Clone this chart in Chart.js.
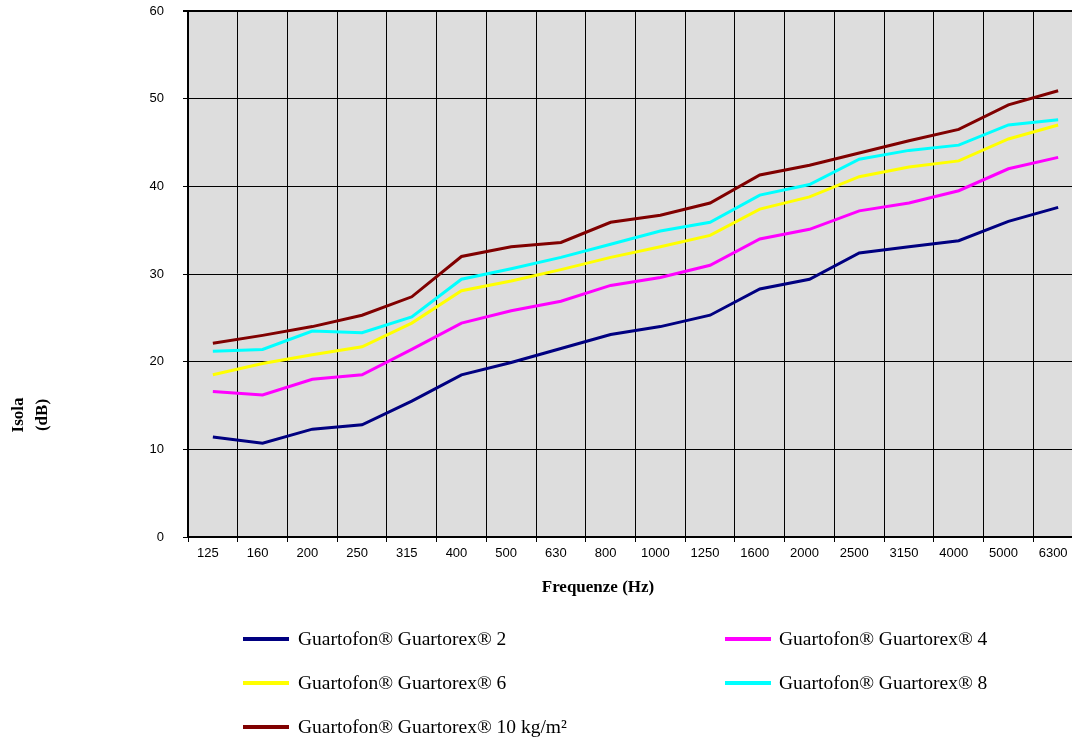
<!DOCTYPE html>
<html>
<head>
<meta charset="utf-8">
<script src="https://cdn.jsdelivr.net/npm/chart.js@4.4.1/dist/chart.umd.min.js"></script>
<style>
  html, body { margin: 0; padding: 0; background: #fff; overflow: hidden; }
  #chart { display: block; }
</style>
</head>
<body>
<canvas id="chart" width="1100" height="740" style="width:1100px;height:740px"></canvas>
<script>
const frequencies = ['125', '160', '200', '250', '315', '400', '500', '630', '800', '1000', '1250', '1600', '2000', '2500', '3150', '4000', '5000', '6300'];
const guartorex2 = [11.4, 10.7, 12.3, 12.8, 15.5, 18.5, 19.9, 21.5, 23.1, 24.0, 25.3, 28.3, 29.4, 32.4, 33.1, 33.8, 36.0, 37.6];
const guartorex4 = [16.6, 16.2, 18.0, 18.5, 21.4, 24.4, 25.8, 26.9, 28.7, 29.6, 31.0, 34.0, 35.1, 37.2, 38.1, 39.5, 42.0, 43.3];
const guartorex6 = [18.5, 19.8, 20.8, 21.7, 24.4, 28.1, 29.2, 30.5, 31.9, 33.1, 34.4, 37.4, 38.8, 41.1, 42.2, 42.9, 45.4, 47.0];
const guartorex8 = [21.2, 21.4, 23.5, 23.3, 25.1, 29.4, 30.6, 31.9, 33.4, 34.9, 35.9, 39.0, 40.2, 43.1, 44.1, 44.7, 47.0, 47.6];
const guartorex10 = [22.1, 23.0, 24.0, 25.3, 27.4, 32.0, 33.1, 33.6, 35.9, 36.7, 38.1, 41.3, 42.4, 43.8, 45.2, 46.5, 49.3, 50.9];
const seriesNames = [
  'Guartofon® Guartorex® 2',
  'Guartofon® Guartorex® 4',
  'Guartofon® Guartorex® 6',
  'Guartofon® Guartorex® 8',
  'Guartofon® Guartorex® 10 kg/m²'
];
const seriesColors = ['#000080', '#ff00ff', '#ffff00', '#00ffff', '#800000'];
const yTitle = ['Isola', '(dB)'];
const xTitle = 'Frequenze (Hz)';

const seriesValues = [guartorex2, guartorex4, guartorex6, guartorex8, guartorex10];

// grey plot background
const plotBackground = {
  id: 'plotBackground',
  beforeDraw(chart) {
    const { ctx, chartArea } = chart;
    ctx.save();
    ctx.fillStyle = '#dddddd';
    ctx.fillRect(chartArea.left, chartArea.top, chartArea.right - chartArea.left, chartArea.bottom - chartArea.top);
    ctx.restore();
  }
};

// axis titles and the two-column legend
const decorations = {
  id: 'decorations',
  afterDraw(chart) {
    const ctx = chart.ctx;
    ctx.save();
    ctx.fillStyle = '#000';
    ctx.font = 'bold 17px "Liberation Serif", "Times New Roman", serif';
    ctx.textAlign = 'center';
    ctx.textBaseline = 'middle';
    ctx.fillText(xTitle, 598, 588);

    ctx.translate(0, 415);
    ctx.rotate(-Math.PI / 2);
    ctx.fillText(yTitle[0], 0, 19);
    ctx.fillText(yTitle[1], 0, 43);
    ctx.setTransform(1, 0, 0, 1, 0, 0);
    ctx.restore();

    ctx.save();
    ctx.font = '19.5px "Liberation Serif", "Times New Roman", serif';
    ctx.textAlign = 'left';
    ctx.textBaseline = 'middle';
    chart.data.datasets.forEach((ds, i) => {
      const col = i % 2;
      const row = Math.floor(i / 2);
      const lx = col === 0 ? 243 : 725;
      const tx = col === 0 ? 298 : 779;
      const y = 639 + row * 44;
      ctx.strokeStyle = ds.borderColor;
      ctx.lineWidth = 4;
      ctx.beginPath();
      ctx.moveTo(lx, y);
      ctx.lineTo(lx + 46, y);
      ctx.stroke();
      ctx.fillStyle = '#000';
      ctx.fillText(ds.label, tx, y + 1);
    });
    ctx.restore();
  }
};

const datasets = seriesValues.map((values, i) => ({
  label: seriesNames[i],
  data: values,
  borderColor: seriesColors[i],
  backgroundColor: seriesColors[i],
  borderWidth: 3,
  pointRadius: 0,
  tension: 0,
  fill: false
}));

new Chart(document.getElementById('chart').getContext('2d'), {
  type: 'line',
  data: { labels: frequencies, datasets: datasets },
  options: {
    responsive: false,
    animation: false,
    layout: { padding: { top: 11, right: 17, left: 0, bottom: 0 } },
    plugins: {
      legend: { display: false },
      tooltip: { enabled: false }
    },
    scales: {
      x: {
        offset: true,
        grid: { offset: true, color: '#000', lineWidth: 1, tickLength: 5, tickColor: '#000' },
        border: { color: '#000', width: 2 },
        ticks: {
          color: '#000',
          font: { family: '"Liberation Sans", Arial, sans-serif', size: 13 },
          padding: 4,
          labelOffset: -5,
          maxRotation: 0,
          autoSkip: false
        },
        afterFit(scale) {
          scale.height = 203;
          scale.paddingLeft = 0;
          scale.paddingRight = 0;
        }
      },
      y: {
        min: 0,
        max: 60,
        grid: {
          color: '#000',
          lineWidth: (c) => (c.tick && c.tick.value === 60 ? 2 : 1),
          tickLength: 5,
          tickColor: '#000'
        },
        border: { color: '#000', width: 2 },
        ticks: {
          stepSize: 10,
          color: '#000',
          font: { family: '"Liberation Sans", Arial, sans-serif', size: 13 },
          padding: 19
        },
        afterFit(scale) {
          scale.width = 188;
          scale.paddingTop = 0;
          scale.paddingBottom = 0;
        }
      }
    }
  },
  plugins: [plotBackground, decorations]
});
</script>
</body>
</html>
